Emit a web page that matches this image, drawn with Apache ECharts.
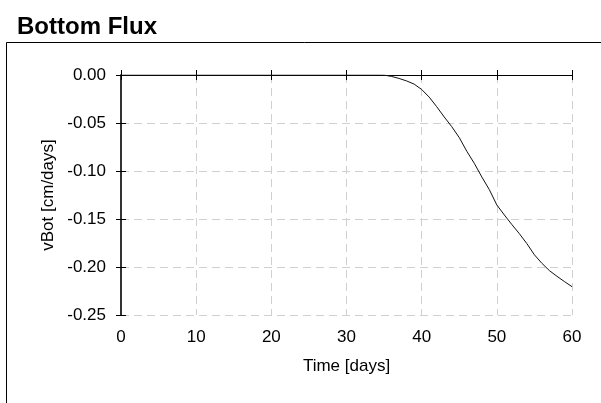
<!DOCTYPE html>
<html>
<head>
<meta charset="utf-8">
<script src="https://cdn.jsdelivr.net/npm/echarts@6/dist/echarts.min.js"></script>
<style>
html,body{margin:0;padding:0;background:#fff;}
#chart{width:601px;height:403px;}
</style>
</head>
<body>
<div id="chart"></div>
<script>
var titleText = 'Bottom Flux';
var xName = 'Time [days]';
var yName = 'vBot [cm/days]';
var xTicks = [0, 10, 20, 30, 40, 50, 60];
var yTicks = [-0.25, -0.20, -0.15, -0.10, -0.05, 0.00];
var timeDays = [0, 10, 20, 30, 34, 35, 36, 37, 38, 39, 40, 41, 42, 43, 44, 45, 46, 47, 48, 49, 50, 51, 52, 53, 54, 55, 56, 57, 58, 59, 60];
var vBot = [0, 0, 0, 0, 0, -0.0001, -0.0015, -0.0036, -0.0062, -0.0095, -0.0151, -0.023, -0.033, -0.0437, -0.0538, -0.0652, -0.0794, -0.092, -0.1062, -0.1194, -0.1354, -0.1458, -0.1558, -0.1653, -0.1757, -0.1873, -0.1962, -0.2038, -0.2097, -0.2152, -0.2205];

var FONT = '"Liberation Sans", Arial, sans-serif';
var xMin = xTicks[0], xMax = xTicks[xTicks.length - 1], xInt = xTicks[1] - xTicks[0];
var yMin = yTicks[0], yMax = yTicks[yTicks.length - 1], yInt = 0.05;

var chart = echarts.init(document.getElementById('chart'), null, {renderer: 'canvas'});

function xAxisDef(pos, inside, showLine, main) {
  return {
    type: 'value', position: pos, min: xMin, max: xMax, interval: xInt,
    axisLine: {show: showLine, lineStyle: {color: '#000', width: 1}},
    axisTick: {show: true, inside: inside, length: 5, lineStyle: {color: '#000', width: 1}},
    axisLabel: main ? {show: true, margin: 14, color: '#000', fontSize: 17, fontFamily: FONT} : {show: false},
    splitLine: main ? {show: true, lineStyle: {color: '#d0d0d0', type: [8, 5], width: 1}} : {show: false},
    name: main ? xName : '',
    nameLocation: 'middle', nameGap: 43,
    nameTextStyle: {color: '#000', fontSize: 17, fontFamily: FONT}
  };
}
function yAxisDef(inside, showLine, main) {
  return {
    type: 'value', position: 'left', min: yMin, max: yMax, interval: yInt,
    axisLine: {show: showLine, lineStyle: {color: '#333', width: 2}},
    axisTick: {show: true, inside: inside, length: 5, lineStyle: {color: '#000', width: 1}},
    axisLabel: main ? {show: true, margin: 15, color: '#000', fontSize: 17, fontFamily: FONT,
      formatter: function (v) { return v.toFixed(2); }} : {show: false},
    splitLine: main ? {show: true, lineStyle: {color: '#d0d0d0', type: [8, 5], width: 1}} : {show: false},
    name: main ? yName : '',
    nameLocation: 'middle', nameGap: 63,
    nameTextStyle: {color: '#000', fontSize: 17, fontFamily: FONT}
  };
}

var option = {
  animation: false,
  backgroundColor: '#fff',
  title: {
    text: titleText, left: 12, top: 10,
    textStyle: {fontFamily: FONT, fontWeight: 'bold', fontSize: 24, color: '#000'}
  },
  graphic: [{
    type: 'rect', silent: true,
    shape: {x: 6.5, y: 42.5, width: 700, height: 500},
    style: {fill: 'none', stroke: '#000', lineWidth: 1}
  }],
  grid: {left: 121, right: 29, top: 75, bottom: 88, containLabel: false},
  xAxis: [
    xAxisDef('bottom', false, true, true),
    xAxisDef('bottom', true, false, false),
    xAxisDef('top', false, true, false),
    xAxisDef('top', true, false, false)
  ],
  yAxis: [
    yAxisDef(false, true, true),
    yAxisDef(true, false, false)
  ],
  series: [{
    type: 'line', xAxisIndex: 0, yAxisIndex: 0,
    data: timeDays.map(function (t, i) { return [t, vBot[i]]; }),
    showSymbol: false, symbol: 'none',
    lineStyle: {color: '#111', width: 1},
    z: 5
  }]
};
chart.setOption(option);
</script>
</body>
</html>
